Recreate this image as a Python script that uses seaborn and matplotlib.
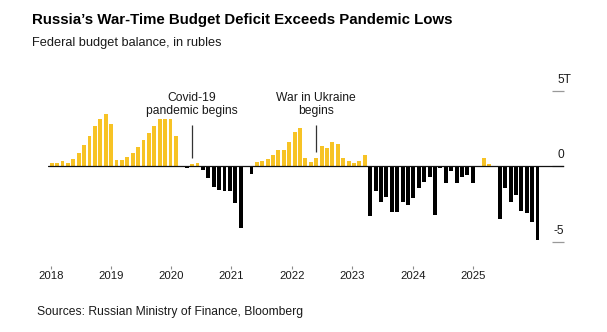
import matplotlib
matplotlib.use("Agg")
import matplotlib.pyplot as plt
import seaborn as sns
import pandas as pd
from matplotlib.transforms import blended_transform_factory

# ---- data (trillion rubles, cumulative year-to-date federal budget balance) ----
years = [2018, 2019, 2020, 2021, 2022, 2023, 2024, 2025]
bal_2018 = [0.18, 0.22, 0.33, 0.20, 0.46, 0.87, 1.39, 1.97, 2.63, 3.08, 3.45, 2.76]
bal_2019 = [0.38, 0.38, 0.62, 0.84, 1.28, 1.72, 2.16, 2.67, 3.09, 3.13, 3.13, 1.99]
bal_2020 = [-0.03, -0.13, 0.10, 0.22, -0.26, -0.82, -1.41, -1.57, -1.65, -1.68, -2.42, -4.13]
bal_2021 = [0.01, -0.53, 0.26, 0.32, 0.44, 0.76, 1.04, 1.07, 1.62, 2.28, 2.49, 0.51]
bal_2022 = [0.28, 0.52, 1.31, 1.20, 1.60, 1.46, 0.55, 0.31, 0.22, 0.35, 0.75, -3.28]
bal_2023 = [-1.65, -2.39, -2.07, -3.06, -3.03, -2.36, -2.59, -2.14, -1.45, -1.04, -0.75, -3.24]
bal_2024 = [-0.10, -1.15, -0.34, -1.15, -0.73, -0.60, -1.10, 0.02, 0.55, 0.10, -0.02, -3.48]
bal_2025 = [-1.48, -2.41, -1.94, -2.96, -3.09, -3.69, -4.90]
series = [bal_2018, bal_2019, bal_2020, bal_2021, bal_2022, bal_2023, bal_2024, bal_2025]

year_labels = ["2018", "2019", "2020", "2021", "2022", "2023", "2024", "2025"]
year_tick_pos = [-0.19, 11.0, 22.15, 33.3, 44.5, 55.7, 66.9, 78.1]
y_ticks = [5, 0, -5]
y_tick_labels = ["5T", "0", "-5"]
events = [("2020-03", "Covid-19\npandemic begins"), ("2022-02", "War in Ukraine\nbegins")]

title = "Russia\u2019s War-Time Budget Deficit Exceeds Pandemic Lows"
subtitle = "Federal budget balance, in rubles"
source = "Sources: Russian Ministry of Finance, Bloomberg"

YELLOW = "#F7C325"
BLACK = "#000000"
TEXT = "#1a1a1a"

months, values = [], []
for y, vals in zip(years, series):
    for m, v in enumerate(vals, start=1):
        months.append(f"{y}-{m:02d}")
        values.append(v)
df = pd.DataFrame({"month": months, "balance": values})
df["sign"] = ["pos" if v >= 0 else "neg" for v in df["balance"]]

sns.set_theme(style="white")
plt.rcParams["font.family"] = ["Liberation Sans", "DejaVu Sans"]

W, H = 607, 332
fig = plt.figure(figsize=(W / 100, H / 100), dpi=100)
ax_l, ax_r, ax_t, ax_b = 48, 564, 70, 266
ax = fig.add_axes([ax_l / W, (H - ax_b) / H, (ax_r - ax_l) / W, (ax_b - ax_t) / H])

sns.barplot(data=df, x="month", y="balance", hue="sign",
            palette={"pos": YELLOW, "neg": BLACK}, hue_order=["pos", "neg"],
            dodge=False, width=0.72, saturation=1, errorbar=None,
            legend=False, ax=ax, linewidth=0, edgecolor="none")

ax.set_xlim(-0.69, 94.9)
ax.set_ylim((166 - ax_b) / 15.1, (166 - ax_t) / 15.1)
for s in ax.spines.values():
    s.set_visible(False)
ax.set_xlabel("")
ax.set_ylabel("")

ax.axhline(0, color="#111111", lw=0.9, zorder=3)

# x ticks
ax.set_xticks(year_tick_pos)
ax.set_xticklabels(year_labels)
ax.tick_params(axis="x", bottom=True, direction="out", length=2.5, width=0.8,
               color="#888888", pad=1.0, labelsize=8.2, labelcolor=TEXT)

# y ticks on the right, drawn inward as short gridline stubs
ax.yaxis.tick_right()
ax.set_yticks(y_ticks)
ax.set_yticklabels([])
ax.tick_params(axis="y", right=True, left=False, direction="in", length=8.6,
               width=0.9, color="#999999")
trans = blended_transform_factory(fig.transFigure, ax.transData)
for v, lab in zip(y_ticks, y_tick_labels):
    if lab.endswith("T"):
        ax.text(557.8 / W, v + 0.5, lab, transform=trans, ha="left", va="baseline",
                fontsize=8.6, color=TEXT)
    else:
        ax.text(ax_r / W, v + 0.5, lab, transform=trans, ha="right", va="baseline",
                fontsize=8.6, color=TEXT)

# event annotations
for mon, label in events:
    idx = months.index(mon)
    val = values[idx]
    ax.vlines(idx, max(val, 0) + 0.43, 2.72, color="#333333", lw=0.9)
    ax.text(idx, 3.22, label, ha="center", va="bottom", fontsize=8.7,
            color=TEXT, linespacing=1.15)

fig.text(32.3 / W, (H - 24) / H, title, fontsize=10.8, fontweight="bold",
         color="#000000", ha="left", va="baseline")
fig.text(32.3 / W, (H - 45.7) / H, subtitle, fontsize=9.2, color=TEXT,
         ha="left", va="baseline")
fig.text(36.7 / W, (H - 315) / H, source, fontsize=8.7, color=TEXT,
         ha="left", va="baseline")

fig.savefig("out.png", dpi=100)
